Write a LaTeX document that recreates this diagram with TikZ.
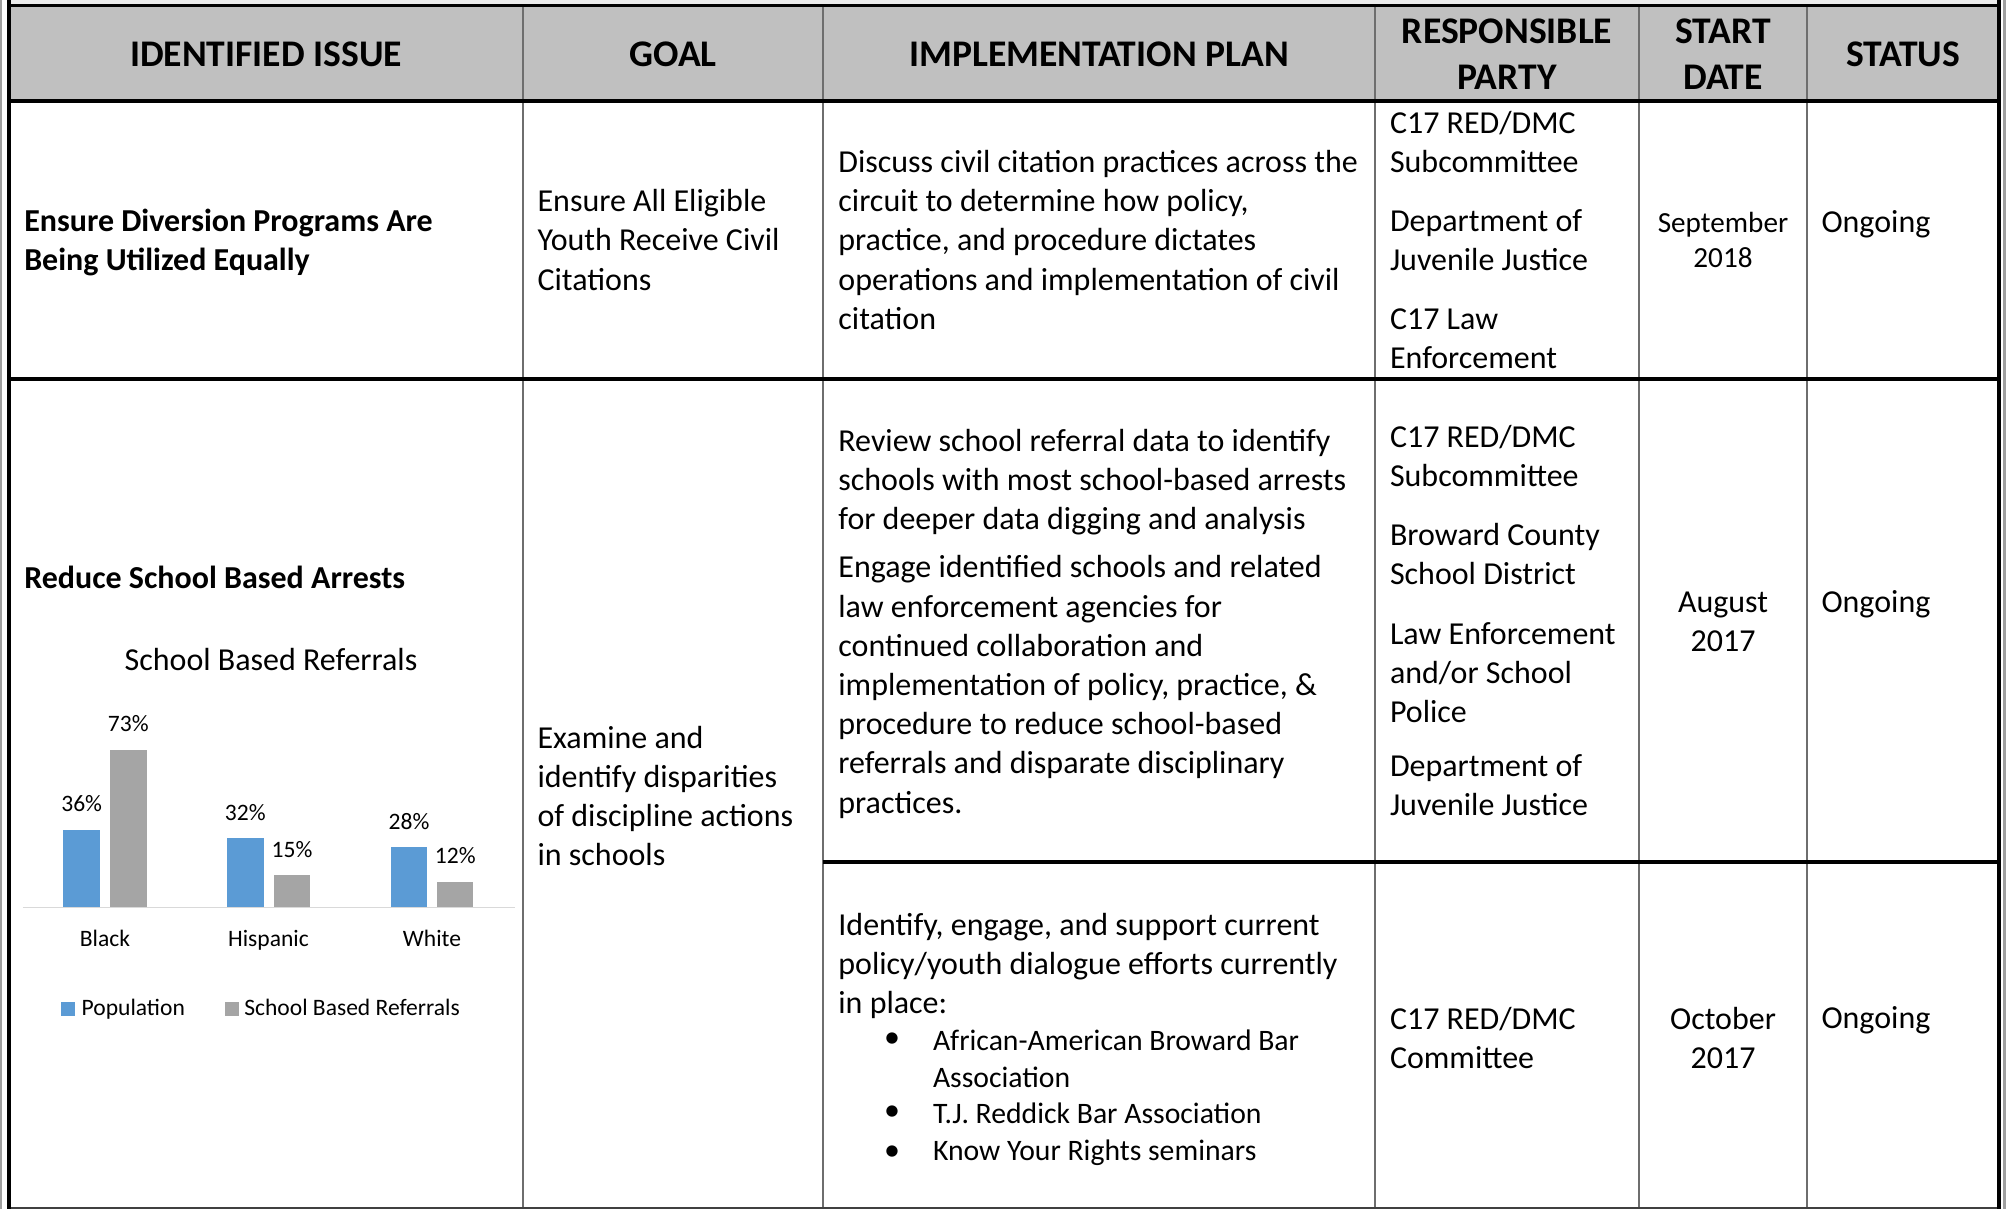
\documentclass[tikz,border=0pt]{standalone}
\usepackage{fontspec}
\setmainfont{Carlito}
\usetikzlibrary{positioning}
\definecolor{headgray}{HTML}{C0C0C0}
\definecolor{topband}{HTML}{EBEBEB}
\definecolor{rulegray}{HTML}{6E6E6E}
\definecolor{edgegray}{HTML}{A0A0A0}
\definecolor{popblue}{HTML}{5B9BD5}
\definecolor{refgray}{HTML}{A5A5A5}
\definecolor{axisgray}{HTML}{D9D9D9}
\newcommand{\bodyfont}{\fontsize{9.1}{11.15}\selectfont}
\newcommand{\headfont}{\fontsize{10.7}{13.1}\selectfont\bfseries}
\newcommand{\smallfont}{\fontsize{8.3}{10.1}\selectfont}
\newcommand{\itemfont}{\fontsize{8.45}{10.5}\selectfont}
\newcommand{\chartfont}{\fontsize{6.7}{8}\selectfont}
\begin{document}
\begin{tikzpicture}[inner sep=0pt, outer sep=0pt,
  head node/.style={align=center,font=\headfont},
  cell node/.style={anchor=west,align=left,font=\bodyfont},
  date node/.style={align=center,font=\bodyfont},
  chart node/.style={anchor=base,font=\chartfont},
  thick rule/.style={line width=1.14pt,black},
  thin rule/.style={line width=0.57pt,rulegray}]
\useasboundingbox (0,0) rectangle (20.07,-12.09);
% header background
\fill[topband] (0.11,0) rectangle (19.97,-0.04);
\fill[headgray] (0.09,-0.053) rectangle (19.99,-1.005);
% column rules
\draw[thin rule] (5.23,-0.053) -- (5.23,-12.08);
\draw[thin rule] (8.23,-0.053) -- (8.23,-12.08);
\draw[thin rule] (13.75,-0.053) -- (13.75,-12.08);
\draw[thin rule] (16.39,-0.053) -- (16.39,-12.08);
\draw[thin rule] (18.07,-0.053) -- (18.07,-12.08);
% row rules
\draw[line width=0.85pt] (0.09,-0.053) -- (19.99,-0.053);
\draw[thick rule] (0.09,-1.005) -- (19.99,-1.005);
\draw[thick rule] (0.09,-3.79) -- (19.99,-3.79);
\draw[thick rule] (8.23,-8.615) -- (19.99,-8.615);
\draw[line width=0.57pt,black!75] (0.09,-12.08) -- (19.99,-12.08);
% outer frame
\draw[thick rule] (0.09,0) -- (0.09,-12.09);
\draw[thick rule] (19.99,0) -- (19.99,-12.09);
\draw[line width=0.6pt,edgegray] (0.012,0) -- (0.012,-12.09);
\draw[line width=0.6pt,edgegray] (20.045,0) -- (20.045,-12.09);

% header
\node[head node] (hIssue) at (2.66,-0.538) {IDENTIFIED ISSUE};
\node[head node] (hGoal) at (6.73,-0.538) {GOAL};
\node[head node] (hPlan) at (10.99,-0.538) {IMPLEMENTATION PLAN};
\node[head node] (hParty) at (15.07,-0.538) {RESPONSIBLE\\PARTY};
\node[head node] (hStart) at (17.23,-0.538) {START\\DATE};
\node[head node] (hStatus) at (19.03,-0.538) {STATUS};

% row 1
\node[cell node,font=\bodyfont\bfseries] (issue1) at (0.243,-2.425) {Ensure Diversion Programs Are\\Being Utilized Equally};
\node[cell node] (goal1) at (5.376,-2.40) {Ensure All Eligible\\Youth Receive Civil\\Citations};
\node[cell node] (plan1) at (8.384,-2.40) {Discuss civil citation practices across the\\circuit to determine how policy,\\practice, and procedure dictates\\operations and implementation of civil\\citation};
\node[cell node] (party1a) at (13.90,-1.42) {C17 RED/DMC\\Subcommittee};
\node[cell node] (party1b) at (13.90,-2.405) {Department of\\Juvenile Justice};
\node[cell node] (party1c) at (13.90,-3.385) {C17 Law\\Enforcement};
\node[date node,font=\smallfont] (start1) at (17.23,-2.40) {September\\2018};
\node[cell node] (status1) at (18.215,-2.24) {Ongoing};

% row 2
\node[cell node,font=\bodyfont\bfseries] (issue2) at (0.243,-5.77) {Reduce School Based Arrests};
\node[cell node] (goal2) at (5.376,-7.96) {Examine and\\identify disparities\\of discipline actions\\in schools};
\node[cell node] (plan2a) at (8.384,-4.82) {Review school referral data to identify\\schools with most school-based arrests\\for deeper data digging and analysis};
\node[cell node] (plan2b) at (8.384,-6.87) {Engage identified schools and related\\law enforcement agencies for\\continued collaboration and\\implementation of policy, practice, \&\\procedure to reduce school-based\\referrals and disparate disciplinary\\practices.};
\node[cell node] (party2a) at (13.90,-4.56) {C17 RED/DMC\\Subcommittee};
\node[cell node] (party2b) at (13.90,-5.54) {Broward County\\School District};
\node[cell node] (party2c) at (13.90,-6.726) {Law Enforcement\\and/or School\\Police};
\node[cell node] (party2d) at (13.90,-7.852) {Department of\\Juvenile Justice};
\node[date node] (start2) at (17.23,-6.215) {August\\2017};
\node[cell node] (status2) at (18.215,-6.04) {Ongoing};

\node[cell node] (plan3) at (8.384,-9.658) {Identify, engage, and support current\\policy/youth dialogue efforts currently\\in place:};
\node[date node] (dot1) at (8.92,-10.406) {•};
\node[date node] (dot2) at (8.92,-11.136) {•};
\node[date node] (dot3) at (8.92,-11.53) {•};
\node[cell node,font=\itemfont] (item1) at (9.33,-10.59) {African-American Broward Bar\\Association};
\node[cell node,font=\itemfont] (item2) at (9.33,-11.136) {T.J. Reddick Bar Association};
\node[cell node,font=\itemfont] (item3) at (9.33,-11.53) {Know Your Rights seminars};
\node[cell node] (party3) at (13.90,-10.38) {C17 RED/DMC\\Committee};
\node[date node] (start3) at (17.23,-10.38) {October\\2017};
\node[cell node] (status3) at (18.215,-10.20) {Ongoing};

% chart
\node[anchor=base,font=\bodyfont] (chartTitle) at (2.71,-6.70) {School Based Referrals};
\fill[popblue] (0.633,-9.077) rectangle (1.00,-8.298);
\fill[refgray] (1.10,-9.077) rectangle (1.467,-7.497);
\fill[popblue] (2.27,-9.077) rectangle (2.637,-8.384);
\fill[refgray] (2.74,-9.077) rectangle (3.10,-8.752);
\fill[popblue] (3.907,-9.077) rectangle (4.273,-8.471);
\fill[refgray] (4.373,-9.077) rectangle (4.733,-8.817);
\draw[axisgray,line width=0.4pt] (0.23,-9.077) -- (5.15,-9.077);
\node[chart node] (lblBlackPop) at (0.817,-8.118) {36\%};
\node[chart node] (lblBlackRef) at (1.283,-7.317) {73\%};
\node[chart node] (lblHispPop) at (2.453,-8.204) {32\%};
\node[chart node] (lblHispRef) at (2.92,-8.572) {15\%};
\node[chart node] (lblWhitePop) at (4.09,-8.291) {28\%};
\node[chart node] (lblWhiteRef) at (4.553,-8.637) {12\%};
\node[chart node] (catBlack) at (1.05,-9.467) {Black};
\node[chart node] (catHisp) at (2.685,-9.467) {Hispanic};
\node[chart node] (catWhite) at (4.32,-9.467) {White};
\fill[popblue] (0.61,-10.02) rectangle (0.75,-10.157);
\node[chart node,anchor=base west] (legPop) at (0.817,-10.157) {Population};
\fill[refgray] (2.25,-10.02) rectangle (2.39,-10.157);
\node[chart node,anchor=base west] (legRef) at (2.443,-10.157) {School Based Referrals};
\end{tikzpicture}
\end{document}
